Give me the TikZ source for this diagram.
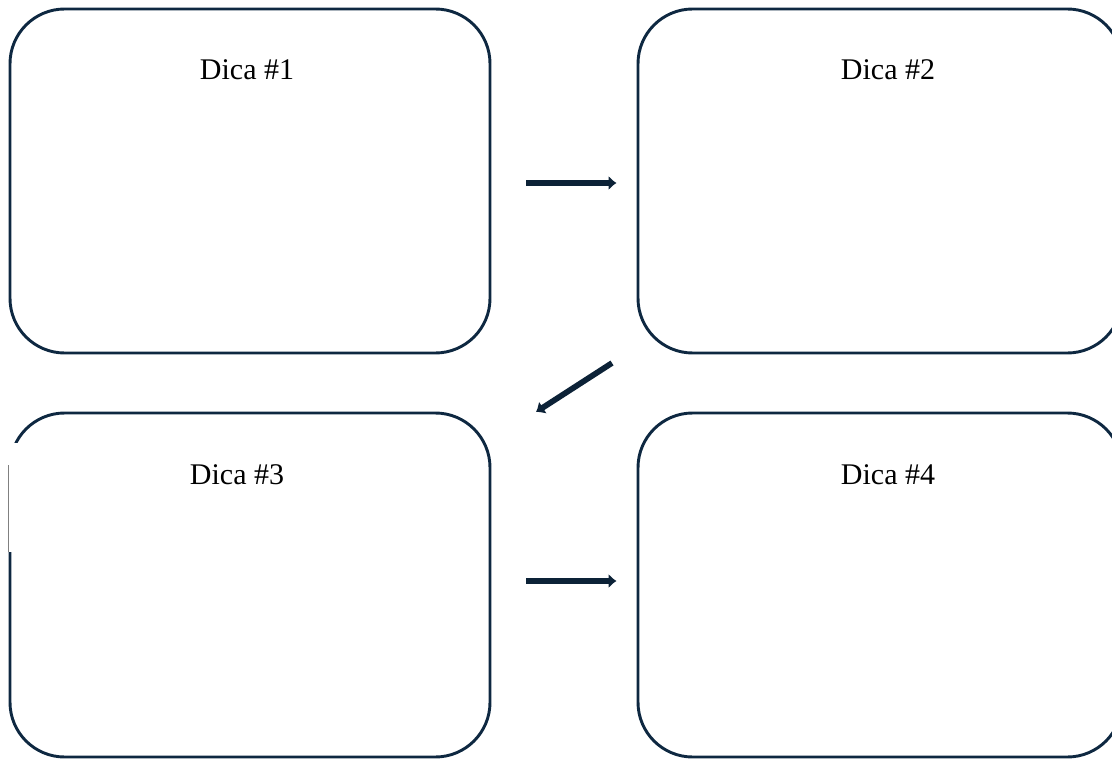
\documentclass[tikz,border=0pt]{standalone}
\usepackage{fontspec}
\setmainfont{Liberation Serif}
\usetikzlibrary{arrows.meta}
\definecolor{navy}{HTML}{0E2841}
\tikzset{
  dicabox/.style={draw=navy, line width=2.2pt, rounded corners=41pt, minimum height=258pt},
  dicatext/.style={font=\fontsize{22.5}{27}\selectfont},
  seta/.style={draw=navy!85!black, line width=4.3pt, -{Latex[length=6pt,width=11pt]}}
}
\begin{document}
\begin{tikzpicture}[x=0.75pt,y=-0.75pt]
\useasboundingbox (0,0) rectangle (1112,759);
\clip (0,0) rectangle (1112,759);
% the four boxes
\node [dicabox, minimum width=360pt] (b1) at (250,181) {};
\node [dicabox, minimum width=363pt] (b2) at (880,181) {};
\node [dicabox, minimum width=360pt] (b3) at (250,585) {};
\node [dicabox, minimum width=363pt] (b4) at (880,585) {};
\node [dicatext] (t1) at (247,70) {Dica \#1};
\node [dicatext] (t2) at (888,70) {Dica \#2};
\node [dicatext] (t3) at (237,475) {Dica \#3};
\node [dicatext] (t4) at (888,475) {Dica \#4};
% arrows
\draw [seta, shorten <=26pt, shorten >=15pt] ([yshift=-1.5pt]b1.east) -- ([yshift=-1.5pt]b2.west);
\coordinate (d1) at (612,363);
\coordinate (d2) at (536,412);
\draw [seta] (d1) -- (d2);
\draw [seta, shorten <=26pt, shorten >=15pt] ([yshift=3pt]b3.east) -- ([yshift=3pt]b4.west);
% patch over the corner of box 3
\fill [white] (0,443) rectangle (18,552);
\draw [gray, thin] (8,465) -- (8,552);
\end{tikzpicture}
\end{document}
